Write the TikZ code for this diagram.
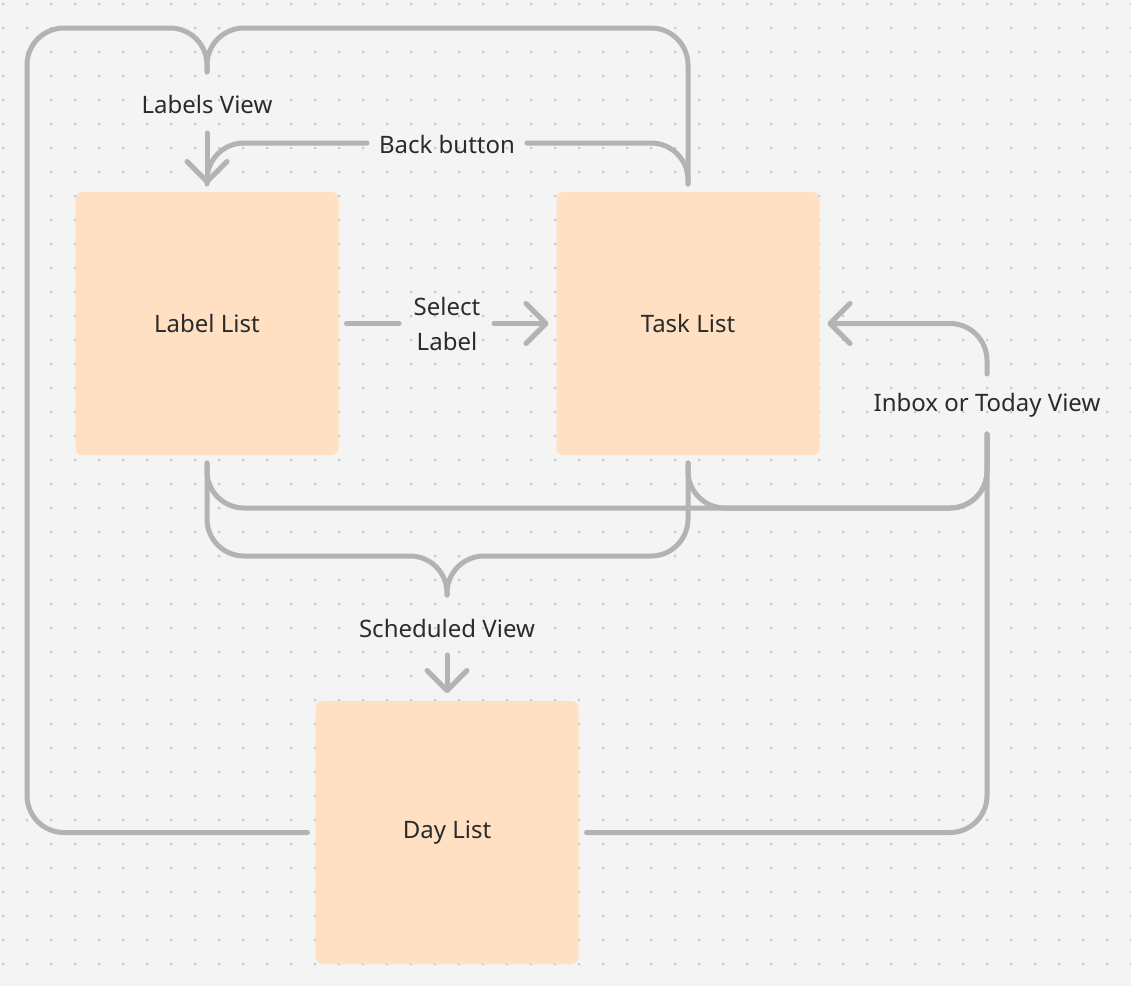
\documentclass[tikz,border=0pt]{standalone}
\usepackage{fontspec}
\setmainfont{Noto Sans}
\usetikzlibrary{arrows.meta}
\definecolor{bg}{HTML}{F4F4F4}
\definecolor{dotc}{HTML}{C8C8C8}
\definecolor{linec}{HTML}{B3B3B3}
\definecolor{boxc}{HTML}{FFE0C2}
\definecolor{txt}{HTML}{2B2B2B}
\begin{document}
\begin{tikzpicture}[x=1pt,y=-1pt,
  stepbox/.style={fill=boxc, rounded corners=7pt, minimum width=263pt, minimum height=263pt, outer sep=8pt, text=txt, font=\fontsize{24}{28}\selectfont, inner sep=0pt},
  lbl/.style={text=txt, font=\fontsize{24}{35}\selectfont, inner sep=0pt, align=center},
  conn/.style={draw=linec, line width=5pt, line cap=round, line join=round, rounded corners=37pt},
  arr/.style={conn, -{Straight Barb[length=20pt,width=40pt,round]}}]
\useasboundingbox (0,0) rectangle (1131,986);
\fill[bg] (0,0) rectangle (1131,986);
\foreach \i in {0,...,47} \foreach \j in {0,...,41} \fill[dotc] (3+24*\i, 4+24*\j) circle (1.5pt);
% boxes
\node[stepbox] (label) at (207,323.5) {Label List};
\node[stepbox] (task) at (688,323.5) {Task List};
\node[stepbox] (day) at (447,832.5) {Day List};
% labels
\node[lbl] (lv) at (207,104) {Labels View};
\node[lbl] (bb) at (447,144) {Back button};
\node[lbl] (sl) at (447,324) {Select\\Label};
\node[lbl] (ib) at (987,405) {Inbox or Today View};
\node[lbl] (sv) at (447,628) {Scheduled View};
% free ends
\coordinate (lvT) at (207,72);
\coordinate (lvB) at (207,133);
\coordinate (bbL) at (367,143);
\coordinate (bbR) at (527,143);
\coordinate (slL) at (399,323.5);
\coordinate (slR) at (494,323.5);
\coordinate (ibT) at (987,374);
\coordinate (ibB) at (987,434);
\coordinate (svT) at (447,595);
\coordinate (svB) at (447,655);
% Labels View
\draw[conn] (day.west) -| (27,28) -| (lvT);
\draw[conn] (task.north) -- (688,28) -- (207,28) -- (lvT);
\draw[arr] (lvB) -- (label.north);
% Back button
\draw[conn] (task.north) -- (688,143) -- (bbR);
\draw[conn] (bbL) -- (207,143) -- (label.north);
% Select Label
\draw[conn] (label.east) -- (slL);
\draw[arr] (slR) -- (task.west);
% Inbox or Today View
\draw[conn] (day.east) -| (ibB);
\draw[conn] (label.south) |- (987,508) -- (ibB);
\draw[conn] (task.south) |- (987,508) -- (ibB);
\draw[arr] (ibT) |- (task.east);
% Scheduled View
\draw[conn] (label.south) |- (447,556) -- (svT);
\draw[conn] (task.south) |- (447,556) -- (svT);
\draw[arr] (svB) -- (day.north);
\end{tikzpicture}
\end{document}
